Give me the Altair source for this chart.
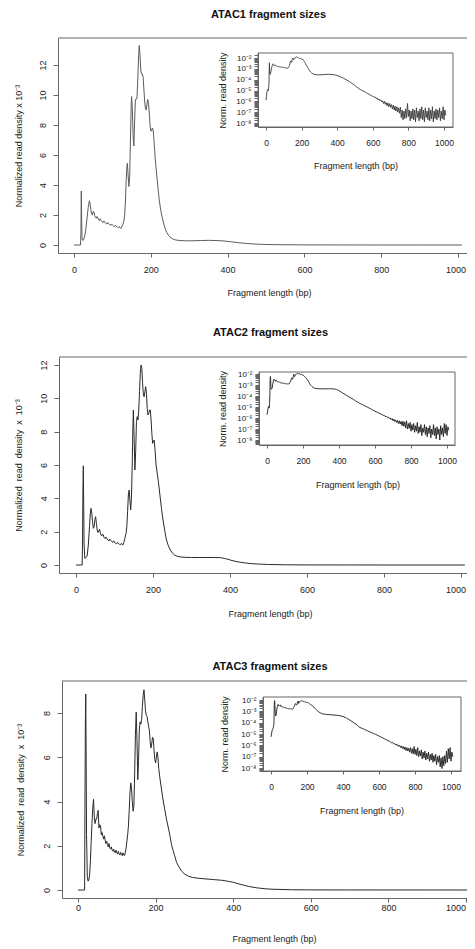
import math
import altair as alt
import pandas as pd

FONT = "Liberation Sans"
TXT = "#222222"
BOX = "#666666"

# ---------------- data ----------------
# main curves: (fragment length bp, normalized read density x 1e-3)
p1_main = [(0,0),(17,0),(18,0.8),(19,3.6),(20,1.6),(21,0.4),(23,0.3),(25,0.35),(28,0.6),(31,1.1),(34,1.8),(37,2.5),
           (40,2.95),(42,2.75),(44,2.35),(46,2.05),(48,2.0),(50,2.25),(52,2.2),(54,1.95),(56,1.85),(58,1.78),(60,1.9),
           (62,1.8),(64,1.68),(66,1.62),(68,1.75),(70,1.66),(73,1.55),(76,1.5),(78,1.6),(80,1.52),(83,1.43),(86,1.4),
           (88,1.5),(90,1.42),(93,1.35),(96,1.31),(98,1.4),(100,1.33),(103,1.26),(106,1.22),(108,1.32),(110,1.25),
           (113,1.18),(116,1.15),(118,1.24),(120,1.16),(122,1.1),(124,1.2),(127,1.35),(130,1.6),(132,2.0),(134,3.0),
           (136,4.4),(138,5.3),(139,5.45),(141,4.6),(143,3.9),(145,4.6),(147,7.0),(149,9.4),(150,9.9),(152,9.0),
           (154,7.2),(156,6.6),(158,8.4),(160,9.7),(162,9.7),(164,9.8),(166,11.0),(168,12.4),(170,13.3),(172,12.6),
           (174,11.6),(176,11.4),(178,11.4),(180,11.2),(182,10.4),(184,9.6),(186,9.1),(188,9.0),(190,9.4),(192,9.7),
           (194,9.5),(196,8.8),(198,8.0),(200,7.6),(202,7.6),(204,7.8),(206,7.7),(208,7.1),(210,6.3),(212,5.6),
           (215,4.8),(218,4.0),(222,3.0),(226,2.3),(230,1.8),(234,1.4),(238,1.05),(242,0.82),(246,0.65),(250,0.52),
           (256,0.42),(264,0.34),(274,0.3),(290,0.28),(310,0.28),(330,0.3),(350,0.31),(370,0.3),(390,0.27),
           (410,0.21),(430,0.15),(450,0.1),(470,0.065),(490,0.042),(520,0.025),(560,0.015),(600,0.009),(650,0.005),
           (700,0.003),(800,0.001),(900,0.0005),(1010,0.0003)]

p2_main = [(0,0),(16,0),(17,1.5),(18,4.5),(19,5.95),(20,3.5),(21,1.2),(23,0.4),(26,0.45),(29,0.55),(32,1.2),(35,2.3),
           (37,3.0),(39,3.4),(41,3.1),(43,2.6),(45,2.2),(47,2.3),(49,2.7),(51,2.9),(53,2.5),(55,2.1),(57,1.95),
           (59,2.05),(61,2.15),(63,1.95),(65,1.8),(67,1.75),(69,1.85),(71,1.8),(73,1.65),(76,1.58),(78,1.68),(80,1.6),
           (83,1.5),(86,1.45),(88,1.55),(90,1.48),(93,1.4),(96,1.36),(98,1.45),(100,1.38),(103,1.3),(106,1.27),
           (108,1.36),(110,1.3),(113,1.24),(116,1.22),(118,1.3),(120,1.24),(122,1.2),(124,1.35),(127,1.6),(130,1.9),
           (132,2.3),(134,3.2),(136,4.2),(138,4.5),(140,3.9),(142,3.3),(144,4.0),(146,6.0),(148,8.5),(149,9.3),
           (151,7.6),(153,5.7),(155,6.8),(157,8.6),(159,8.9),(161,8.7),(163,9.3),(165,10.4),(167,11.5),(169,12.0),
           (171,11.8),(173,10.9),(175,10.2),(177,10.1),(179,10.4),(181,10.7),(183,10.3),(185,9.4),(187,9.0),
           (189,9.1),(191,9.3),(193,9.3),(195,8.7),(197,7.9),(199,7.3),(201,7.4),(203,7.5),(205,7.0),(208,6.0),
           (211,5.5),(214,5.0),(218,4.2),(222,3.4),(226,2.7),(231,2.0),(235,1.5),(240,1.15),(245,0.9),(250,0.73),
           (256,0.6),(263,0.52),(272,0.48),(285,0.46),(300,0.45),(320,0.45),(340,0.45),(360,0.45),(375,0.44),
           (385,0.4),(395,0.34),(405,0.27),(420,0.19),(440,0.12),(460,0.075),(480,0.05),(500,0.03),(550,0.012),
           (600,0.005),(700,0.002),(800,0.0008),(1010,0.0003)]

p3_main = [(0,0),(17,0),(18,4.0),(19,7.5),(20,8.86),(21,6.0),(22,2.5),(24,0.6),(26,0.4),(28,0.45),(30,0.7),(32,1.3),
           (34,2.2),(36,3.0),(38,3.7),(40,4.1),(42,3.3),(44,3.0),(46,3.2),(48,3.2),(50,3.45),(52,3.6),(54,2.8),
           (56,2.95),(58,2.9),(60,2.5),(62,2.6),(64,2.45),(66,2.3),(68,2.45),(70,2.25),(72,2.1),(74,2.2),(76,2.05),
           (78,1.95),(80,2.1),(82,1.9),(84,1.85),(86,1.95),(88,1.8),(90,1.75),(92,1.85),(94,1.72),(96,1.68),(98,1.8),
           (100,1.68),(102,1.62),(104,1.75),(106,1.63),(108,1.58),(110,1.7),(112,1.6),(114,1.55),(116,1.68),
           (118,1.58),(120,1.55),(122,1.7),(124,1.9),(126,2.2),(128,2.5),(130,2.9),(132,3.6),(134,4.4),(136,4.84),
           (138,4.6),(140,4.0),(142,3.56),(144,3.8),(146,5.2),(148,7.0),(150,8.04),(152,6.8),(154,4.99),(156,5.8),
           (158,7.2),(160,7.6),(162,7.5),(164,7.7),(166,8.3),(168,8.8),(170,9.05),(172,8.6),(174,8.1),(176,7.9),
           (178,7.85),(180,7.6),(182,7.4),(184,7.2),(186,6.7),(188,6.42),(190,6.6),(192,6.9),(194,6.85),(196,6.3),
           (198,5.9),(200,5.74),(202,6.0),(204,6.24),(206,6.0),(208,5.5),(211,5.07),(214,4.7),(218,4.2),(223,3.7),
           (228,3.2),(233,2.8),(237,2.45),(241,2.05),(245,1.8),(249,1.55),(254,1.25),(260,1.05),(267,0.85),
           (275,0.72),(285,0.62),(295,0.57),(310,0.53),(330,0.5),(350,0.47),(370,0.44),(385,0.4),(400,0.35),
           (420,0.25),(440,0.16),(460,0.1),(480,0.06),(500,0.035),(550,0.012),(600,0.005),(700,0.002),(1010,0.0005)]

# inset (log10 of normalized density): start of the curve below the first spike
p1_head = [(0,-5.9),(3,-5.5),(5,-5.1),(8,-5.05),(11,-4.9),(13,-5.0),(15,-4.7),(17,-4.3)]
p2_head = [(0,-5.7),(3,-5.45),(6,-5.1),(9,-4.95),(12,-5.1),(14,-4.7),(16,-4.0)]
p3_head = [(0,-5.25),(3,-5.0),(6,-4.7),(9,-4.55),(12,-4.5),(14,-4.35),(16,-4.1),(17,-3.8)]

# inset tails: (first bp, step bp, log10 values)
p1_tail = [(480, 10, [-4.32,-4.42,-4.55,-4.68,-4.8,-4.9,-5.0,-5.08,-5.17,-5.27,-5.36,-5.45,-5.55]),
           (605, 5, [-5.55,-5.66,-5.6,-5.75,-5.7,-5.86,-5.78,-5.95,-5.87,-6.05,
                     -5.95,-6.2,-5.98,-6.28,-6.1,-6.4,-6.15,-6.5,-6.2,-6.55,
                     -6.3,-6.7,-6.35,-6.8,-6.45,-6.9,-6.5,-7.0,-6.6,-7.1,
                     -6.55,-7.5,-6.8,-7.7,-6.9,-7.6,-6.7,-7.5,-6.2,-7.4,
                     -6.8,-7.8,-6.9,-7.6,-6.7,-7.7,-6.8,-7.9,-6.6,-7.5,
                     -6.9,-7.8,-6.7,-7.6,-6.5,-7.7,-6.8,-7.9,-6.6,-7.5,
                     -6.9,-7.7,-6.6,-7.8,-6.8,-7.6,-6.5,-7.9,-6.9,-7.6,
                     -6.7,-7.7,-6.8,-7.5,-6.6,-7.8,-6.9,-7.6,-6.5,-7.7,
                     -6.8,-7.3])]
p2_tail = [(490, 10, [-4.42,-4.52,-4.62,-4.7,-4.78,-4.87,-4.95,-5.03,-5.12,-5.2,-5.3,-5.38,-5.46,-5.54,-5.62,-5.7,-5.78]),
           (655, 5, [-5.8,-5.9,-5.85,-5.98,-5.93,-6.06,-6.0,-6.15,-6.05,-6.25,
                     -6.1,-6.32,-6.18,-6.4,-6.22,-6.5,-6.25,-6.55,-6.3,-6.7,
                     -6.3,-6.75,-6.35,-6.9,-6.25,-7.0,-6.5,-6.95,-6.4,-7.2,
                     -6.6,-7.1,-6.5,-7.3,-6.7,-7.2,-6.4,-7.4,-6.8,-7.3,
                     -6.6,-7.6,-6.9,-7.3,-6.6,-7.5,-6.8,-7.7,-6.9,-7.4,
                     -6.7,-7.8,-7.0,-7.5,-6.6,-7.6,-6.9,-7.9,-6.8,-7.5,
                     -7.0,-8.0,-6.7,-7.5,-6.9,-7.7,-6.5,-7.4,-6.6,-7.6,
                     -6.8,-7.1])]
p3_tail = [(490, 10, [-4.4,-4.46,-4.53,-4.6,-4.68,-4.75,-4.82,-4.89,-4.96,-5.03,-5.1,-5.18,-5.26,-5.34,-5.42,-5.5,-5.58,-5.66]),
           (665, 5, [-5.7,-5.78,-5.74,-5.85,-5.82,-5.95,-5.88,-6.02,-5.95,-6.1,
                     -6.0,-6.2,-6.05,-6.28,-6.1,-6.35,-6.15,-6.45,-6.2,-6.5,
                     -6.25,-6.6,-6.2,-6.7,-6.3,-6.75,-6.1,-6.8,-6.35,-6.9,
                     -6.2,-7.0,-6.5,-6.95,-6.4,-7.2,-6.6,-7.1,-6.5,-7.3,
                     -6.7,-7.2,-6.6,-7.4,-6.8,-7.3,-6.7,-7.5,-6.9,-7.4,
                     -6.8,-7.7,-7.0,-7.5,-6.9,-7.9,-7.1,-8.05,-7.0,-7.8,
                     -6.9,-7.6,-6.5,-7.5,-6.3,-7.2,-6.2,-7.4,-6.6,-7.0])]

titles = ["ATAC1 fragment sizes", "ATAC2 fragment sizes", "ATAC3 fragment sizes"]
x_ticks = [0, 200, 400, 600, 800, 1000]
main_y_ticks = [[0, 2, 4, 6, 8, 10, 12], [0, 2, 4, 6, 8, 10, 12], [0, 2, 4, 6, 8]]
inset_labels = {-2: "10⁻²", -3: "10⁻³", -4: "10⁻⁴", -5: "10⁻⁵", -6: "10⁻⁶", -7: "10⁻⁷", -8: "10⁻⁸"}
ytitle1 = "Normalized read density x 10⁻³"
ytitle2 = "Normalized\u00a0 read\u00a0 density\u00a0 x\u00a0 10⁻³"
xtitle = "Fragment length (bp)"
itytle = "Norm. read density"

# ---------------- layout (page pixels) ----------------
OX, OY = 50, 8          # page position of the plot origin
W, H = 417, 937
RIGHT_LIMIT = 466       # last visible page column

panels = [
    dict(main=p1_main, head=p1_head, tail=p1_tail, cut=18, tail_start=480, title=titles[0], ytitle=ytitle1,
         yt=main_y_ticks[0], lc="#5c5c5c", ic="#3a3a3a", title_xy=(268.5, 15),
         mx=((0, 74), (1000, 458)), my=((0, 245), (12, 65)), mbox=(58, 478, 38, 253),
         mpad=8.5, mxt=(269, 292), myt_x=18,
         ix=((0, 266), (1000, 444)), iy=((-2, 58), (-8, 123)), ibox=(258, 453, 53, 127),
         ixt=(355.5, 165), iyt_x=222),
    dict(main=p2_main, head=p2_head, tail=p2_tail, cut=17, tail_start=490, title=titles[1], ytitle=ytitle2,
         yt=main_y_ticks[1], lc="#2a2a2a", ic="#1e1e1e", title_xy=(270.5, 333),
         mx=((0, 76), (1000, 461)), my=((0, 565), (12, 365)), mbox=(59, 480, 357, 573),
         mpad=8.5, mxt=(270, 613), myt_x=18.5,
         ix=((0, 267), (1000, 447)), iy=((-2, 374), (-8, 440)), ibox=(259, 455, 372, 445),
         ixt=(357.5, 484), iyt_x=222),
    dict(main=p3_main, head=p3_head, tail=p3_tail, cut=18, tail_start=490, title=titles[2], ytitle=ytitle2,
         yt=main_y_ticks[2], lc="#2a2a2a", ic="#1e1e1e", title_xy=(270, 667),
         mx=((0, 78), (1000, 466)), my=((0, 890), (8, 713)), mbox=(62, 484, 681, 898),
         mpad=1, mxt=(274, 938), myt_x=20.5,
         ix=((0, 271), (1000, 451)), iy=((-2, 700), (-8, 768)), ibox=(263, 461, 697, 771),
         ixt=(361.5, 810), iyt_x=224),
]


def dom(ref, pa, pb):
    (v0, p0), (v1, p1) = ref
    k = (v1 - v0) / (p1 - p0)
    return [v0 + (pa - p0) * k, v0 + (pb - p0) * k]


def inset_frame(p):
    rows = list(p["head"])
    for xv, yv in p["main"]:
        if p["cut"] <= xv < p["tail_start"]:
            rows.append((xv, math.log10(yv / 1000.0)))
    for start, step, vals in p["tail"]:
        for i, v in enumerate(vals):
            rows.append((start + step * i, v))
    return pd.DataFrame(rows, columns=["bp", "e"])


def minor_values(lo, hi):
    out = []
    for n in range(-10, 0):
        for k in range(1, 10):
            v = n + math.log10(k)
            if lo <= v <= hi:
                out.append(round(v, 4))
    return out


label_expr = " : ".join(f"abs(datum.value - ({k})) < 0.001 ? '{v}'" for k, v in inset_labels.items()) + " : ''"

layers = []
for p in panels:
    L, R, T, B = p["mbox"]
    xd = dom(p["mx"], L, R)
    yd = dom(p["my"], B, T)
    xs = alt.Scale(domain=xd, range=[L - OX, R - OX], nice=False, zero=False)
    ys = alt.Scale(domain=yd, range=[B - OY, T - OY], nice=False, zero=False)
    main_df = pd.DataFrame(p["main"], columns=["bp", "d"])
    x1000 = p["mx"][1][1]
    shift = min(0, RIGHT_LIMIT - (x1000 + 10.5))
    xax = alt.Axis(orient="bottom", offset=(B - OY) - H, values=x_ticks, format="d", tickSize=4, tickCount=50,
                   labelPadding=p["mpad"], labelFontSize=9, labelOverlap=False, labelFlush=False,
                   labelOffset={"condition": {"test": "datum.value == 1000", "value": shift}, "value": 0},
                   title=xtitle, titleFontSize=9,
                   titleX=p["mxt"][0] - OX, titleY=p["mxt"][1] - B, titleBaseline="middle", titleAlign="center")
    yax = alt.Axis(orient="left", offset=-(L - OX), values=p["yt"], format="d", tickSize=5, tickCount=50,
                   labelAngle=270, labelAlign="center", labelBaseline="alphabetic", labelPadding=7.5,
                   labelFontSize=9, labelOverlap=False, labelFlush=False,
                   title=p["ytitle"], titleFontSize=9, titleAngle=270,
                   titleX=p["myt_x"] - L, titleY=(T + B) / 2 - OY, titleBaseline="middle", titleAlign="center")
    main_line = alt.Chart(main_df).mark_line(color=p["lc"], strokeWidth=1).encode(
        x=alt.X("bp:Q", scale=xs, axis=xax), y=alt.Y("d:Q", scale=ys, axis=yax))
    frame_df = pd.DataFrame({"x0": [xd[0]], "x1": [xd[1]], "y1": [yd[1]]})
    top_rule = alt.Chart(frame_df).mark_rule(color=BOX, strokeWidth=1).encode(
        x=alt.X("x0:Q", scale=xs), x2="x1:Q", y=alt.Y("y1:Q", scale=ys))
    layers.append(alt.layer(main_line, top_rule))

    iL, iR, iT, iB = p["ibox"]
    ixd = dom(p["ix"], iL, iR)
    iyd = dom(p["iy"], iB, iT)
    ixs = alt.Scale(domain=ixd, range=[iL - OX, iR - OX], nice=False, zero=False)
    iys = alt.Scale(domain=iyd, range=[iB - OY, iT - OY], nice=False, zero=False)
    ixax = alt.Axis(orient="bottom", offset=(iB - OY) - H, values=x_ticks, format="d", tickSize=3, tickCount=50,
                    labelPadding=8.5, labelFontSize=8.5, labelOverlap=False, labelFlush=False,
                    title=xtitle, titleFontSize=9,
                    titleX=p["ixt"][0] - OX, titleY=p["ixt"][1] - iB, titleBaseline="middle", titleAlign="center")
    iyax = alt.Axis(orient="left", offset=-(iL - OX), values=minor_values(iyd[0], iyd[1]), labelExpr=label_expr,
                    tickCount=500, tickSize=4, labelPadding=3, labelFontSize=8, labelAlign="right",
                    labelBaseline="middle", labelOverlap=False, labelFlush=False, labelBound=False,
                    title=itytle, titleFontSize=9, titleAngle=270, titleX=p["iyt_x"] - iL,
                    titleY=(iT + iB) / 2 - OY, titleBaseline="middle", titleAlign="center")
    inset_line = alt.Chart(inset_frame(p)).mark_line(color=p["ic"], strokeWidth=0.9).encode(
        x=alt.X("bp:Q", scale=ixs, axis=ixax), y=alt.Y("e:Q", scale=iys, axis=iyax))
    box_df = pd.DataFrame({"x0": [ixd[0]], "x1": [ixd[1]], "y0": [iyd[0]], "y1": [iyd[1]]})
    box = alt.Chart(box_df).mark_rect(fillOpacity=0, stroke=BOX, strokeWidth=1).encode(
        x=alt.X("x0:Q", scale=ixs), x2="x1:Q",
        y=alt.Y("y0:Q", scale=iys), y2="y1:Q")
    layers.append(alt.layer(inset_line, box))

    tdf = pd.DataFrame({"t": [p["title"]]})
    ttl = alt.Chart(tdf).mark_text(font=FONT, fontSize=11, fontWeight="bold", color="#111111",
                                   align="center", baseline="middle").encode(
        text="t:N", x=alt.value(p["title_xy"][0] - OX), y=alt.value(p["title_xy"][1] - OY))
    layers.append(ttl)

chart = alt.layer(*layers).resolve_scale(x="independent", y="independent").properties(
    width=W, height=H,
    autosize=alt.AutoSizeParams(type="none"),
    padding={"left": OX - 8, "top": OY - 8, "right": 0, "bottom": 0},
).configure(font=FONT).configure_view(stroke=None).configure_axis(
    grid=False, labelFont=FONT, titleFont=FONT, labelColor=TXT, titleColor=TXT,
    domainColor=BOX, tickColor=BOX, titleFontWeight="normal", labelFlush=False,
    labelOverlap=False, domainWidth=1, tickWidth=1,
)

chart.save("out.html", embed_options={"renderer": "svg", "actions": False})
